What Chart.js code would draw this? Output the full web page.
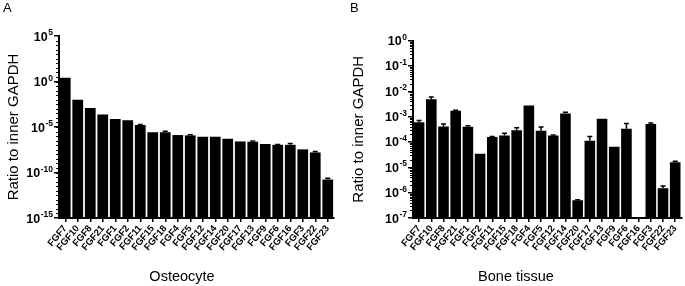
<!DOCTYPE html>
<html>
<head>
<meta charset="utf-8">
<script src="https://cdn.jsdelivr.net/npm/chart.js@4"></script>
<style>
    body { margin: 0; background: #fff; }
    .panel { position: absolute; top: 0; height: 286px; }
    #panelA { left: 0; width: 343px; }
    #panelB { left: 343px; width: 342px; }
</style>
</head>
<body>
<div class="panel" id="panelA"><canvas id="osteocyteChart"></canvas></div>
<div class="panel" id="panelB"><canvas id="boneChart"></canvas></div>
<script>
const genes = ['FGF7', 'FGF10', 'FGF8', 'FGF21', 'FGF1', 'FGF2', 'FGF11', 'FGF15', 'FGF18', 'FGF4', 'FGF5',
    'FGF12', 'FGF14', 'FGF20', 'FGF17', 'FGF13', 'FGF9', 'FGF6', 'FGF16', 'FGF3', 'FGF22', 'FGF23']

// panel A - osteocyte, mean and SD
const osteocyteRatio = [2.6, 1.0e-2, 1.25e-3, 2.3e-4, 7.6e-5, 5.5e-5, 1.7e-5, 2.6e-6, 2.6e-6, 1.3e-6, 1.2e-6,
    8.5e-7, 8.5e-7, 5.1e-7, 2.6e-7, 2.4e-7, 1.35e-7, 1.1e-7, 1.1e-7, 3.5e-8, 1.6e-8, 1.7e-11]
const osteocyteSD = [0, 0, 0, 0, 0, 0, 1.5e-6, 0, 7.5e-7, 0, 2.2e-7,
    0, 0, 0, 0, 4.4e-8, 0, 1.0e-8, 4.4e-8, 0, 4.6e-9, 6.8e-12]

// panel B - bone tissue, mean and SD
const boneRatio = [6.0e-4, 4.8e-3, 4.1e-4, 1.7e-3, 4.0e-4, 3.4e-5, 1.56e-4, 1.8e-4, 2.9e-4, 2.75e-3, 2.8e-4,
    1.8e-4, 1.34e-3, 5.0e-7, 1.12e-4, 8.3e-4, 6.5e-5, 3.3e-4, 1.0e-7, 5.1e-4, 1.5e-6, 1.58e-5]
const boneSD = [1.0e-4, 1.1e-3, 1.0e-4, 1.0e-4, 4.0e-5, 0, 1.0e-5, 4.0e-5, 7.0e-5, 0, 1.1e-4,
    1.0e-5, 1.4e-4, 3.0e-8, 5.4e-5, 0, 0, 2.1e-4, 0, 5.0e-5, 3.5e-7, 1.4e-6]

const osteocyteTicks = [1e5, 1e0, 1e-5, 1e-10, 1e-15]
const boneTicks = [1e0, 1e-1, 1e-2, 1e-3, 1e-4, 1e-5, 1e-6, 1e-7]

const FONT = "'Liberation Sans', Arial, sans-serif"
Chart.defaults.font.family = FONT
Chart.defaults.color = '#000'

// upward SD bars with a small cap
const errorBarPlugin = {
    id: 'errorBars',
    afterDatasetsDraw(chart, args, opts) {
        const { ctx } = chart
        const yScale = chart.scales.y
        chart.data.datasets.forEach((ds, di) => {
            const meta = chart.getDatasetMeta(di)
            meta.data.forEach((bar, i) => {
                const sd = ds.sd[i]
                if (!sd) return
                const yTop = yScale.getPixelForValue(ds.data[i] + sd)
                ctx.save()
                ctx.strokeStyle = '#000'
                ctx.lineWidth = 1.5
                ctx.beginPath()
                ctx.moveTo(bar.x, bar.y)
                ctx.lineTo(bar.x, yTop)
                ctx.moveTo(bar.x - 2.5, yTop)
                ctx.lineTo(bar.x + 2.5, yTop)
                ctx.stroke()
                ctx.restore()
            })
        })
    }
}

// minor ticks on the log axis + "10^n" labels with a real raised exponent
const logAxisPlugin = {
    id: 'logAxis',
    afterDraw(chart, args, opts) {
        const { ctx } = chart
        const y = chart.scales.y
        const left = chart.chartArea.left
        const lo = Math.round(Math.log10(y.min))
        const hi = Math.round(Math.log10(y.max))
        ctx.save()
        ctx.strokeStyle = '#000'
        ctx.lineWidth = 1
        ctx.beginPath()
        for (let e = lo; e < hi; e++) {
            opts.steps.forEach(s => {
                const v = s * Math.pow(10, e)
                if (v <= y.min || v >= y.max) return
                const py = Math.round(y.getPixelForValue(v)) + 0.5
                ctx.moveTo(left, py)
                ctx.lineTo(left - 3, py)
            })
        }
        ctx.stroke()

        ctx.fillStyle = '#000'
        ctx.textBaseline = 'alphabetic'
        const right = left - 6
        y.ticks.forEach(t => {
            const py = y.getPixelForValue(t.value)
            const exp = String(Math.round(Math.log10(t.value)))
            ctx.font = 'bold 8.5px ' + FONT
            const expW = ctx.measureText(exp).width
            ctx.textAlign = 'left'
            ctx.fillText(exp, right - expW, py - 1)
            ctx.font = 'bold 12.5px ' + FONT
            ctx.textAlign = 'right'
            ctx.fillText('10', right - expW - 0.5, py + 4.5)
        })
        ctx.restore()
    }
}

// category axis title, placed like the original (not centred on the axis)
const xTitlePlugin = {
    id: 'xTitle',
    afterDraw(chart, args, opts) {
        const { ctx } = chart
        ctx.save()
        ctx.fillStyle = '#000'
        ctx.font = '14.5px ' + FONT
        ctx.textAlign = 'center'
        ctx.textBaseline = 'middle'
        ctx.fillText(opts.text, opts.x, opts.y)
        ctx.restore()
    }
}

const makeConfig = (p) => ({
    type: 'bar',
    data: {
        labels: genes,
        datasets: [{
            data: p.values,
            sd: p.sd,
            backgroundColor: '#000',
            borderWidth: 0,
            barPercentage: p.barPct,
            categoryPercentage: 1
        }]
    },
    options: {
        responsive: true,
        maintainAspectRatio: false,
        animation: false,
        layout: { padding: { left: p.padLeft, right: p.padRight, top: 0, bottom: 0 } },
        scales: {
            x: {
                afterFit: (scale) => { scale.height = 68 },
                border: { color: '#000', width: 2 },
                grid: { drawOnChartArea: false, offset: false, color: '#000', lineWidth: 1.5, tickLength: 4 },
                ticks: { autoSkip: false, minRotation: 50, maxRotation: 50, padding: 1, font: { size: 9.5, weight: 'bold' } }
            },
            y: {
                type: 'logarithmic',
                min: p.min,
                max: p.max,
                afterBuildTicks: (scale) => { scale.ticks = p.ticks.map(v => ({ value: v })) },
                afterFit: (scale) => { scale.width = p.yWidth },
                border: { color: '#000', width: 2 },
                grid: { drawOnChartArea: false, color: '#000', lineWidth: 1.5, tickLength: 5 },
                ticks: { display: false, autoSkip: false },
                title: { display: true, text: 'Ratio to inner GAPDH', font: { size: 15 }, padding: { top: p.titlePad, bottom: 0 } }
            }
        },
        plugins: {
            legend: { display: false },
            tooltip: { enabled: false },
            title: {
                display: true,
                text: p.letter,
                align: 'start',
                font: { size: 13, weight: 'normal' },
                color: '#000',
                padding: { top: 1, bottom: p.letterGap }
            },
            logAxis: { steps: p.minorSteps },
            xTitle: { text: p.xTitle, x: p.xTitleX, y: 277 }
        }
    },
    plugins: [errorBarPlugin, logAxisPlugin, xTitlePlugin]
})

new Chart(document.getElementById('osteocyteChart'), makeConfig({
    values: osteocyteRatio, sd: osteocyteSD, ticks: osteocyteTicks,
    min: 1e-15, max: 1e5, letter: 'A', letterGap: 19.4,
    padLeft: 3, padRight: 9, yWidth: 56, titlePad: 2, barPct: 0.86,
    minorSteps: [1, 3.16], xTitle: 'Osteocyte', xTitleX: 182
}))

new Chart(document.getElementById('boneChart'), makeConfig({
    values: boneRatio, sd: boneSD, ticks: boneTicks,
    min: 1e-7, max: 1e0, letter: 'B', letterGap: 24,
    padLeft: 7, padRight: 2, yWidth: 63, titlePad: 0, barPct: 0.87,
    minorSteps: [2, 3, 4, 5, 6, 7, 8, 9], xTitle: 'Bone tissue', xTitleX: 173
}))
</script>
</body>
</html>
